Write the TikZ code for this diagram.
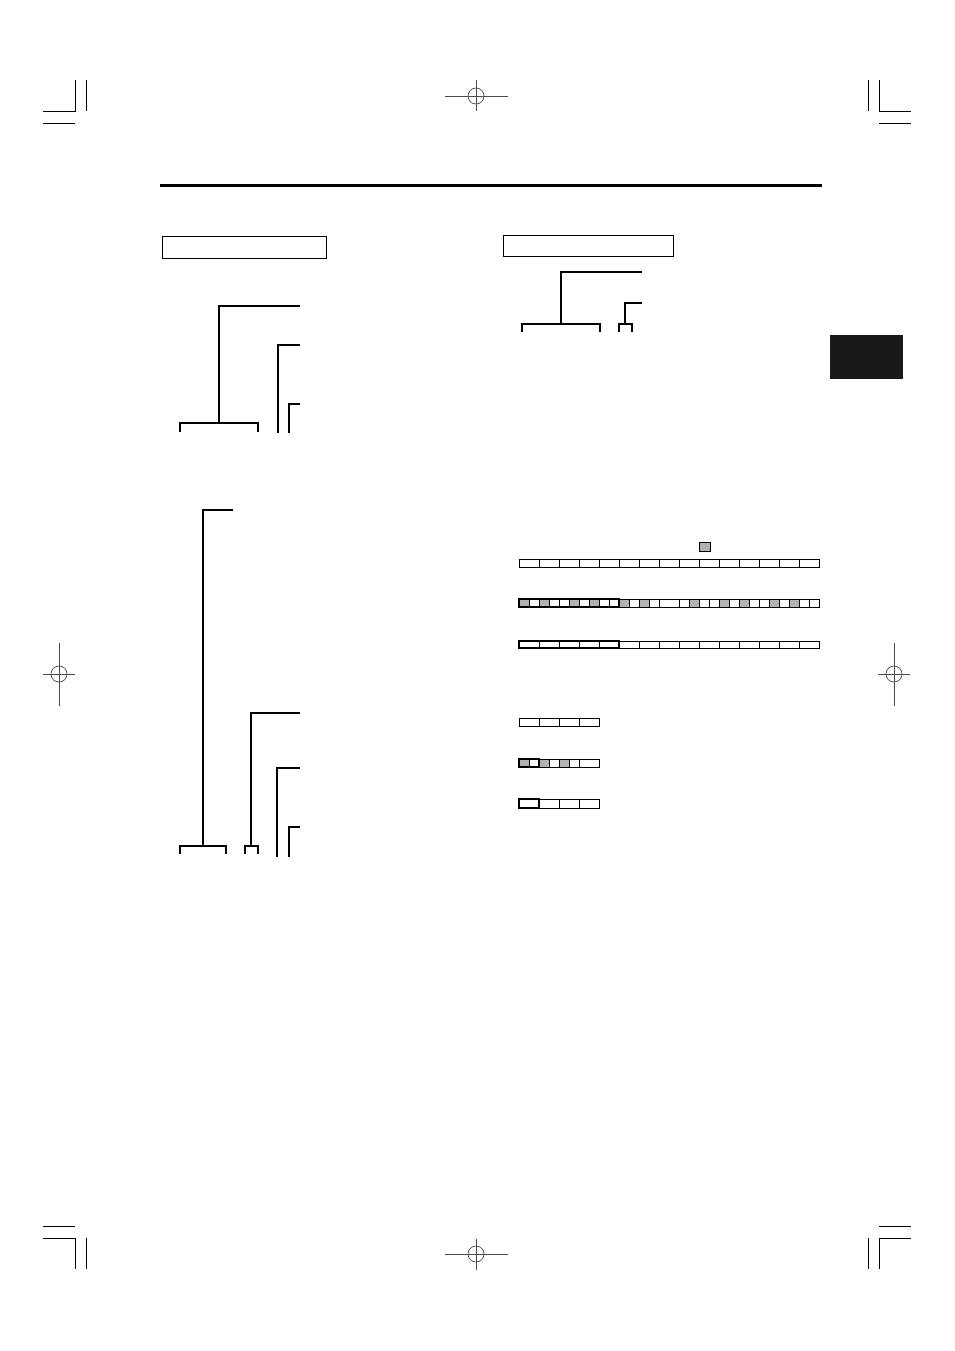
\documentclass[tikz,border=0pt]{standalone}
\usetikzlibrary{positioning}

\begin{document}
\begin{tikzpicture}[
    x=1pt, y=-1pt,
    line/.style={line width=1.2pt, line cap=rect},
    titlebox/.style={rectangle, draw, line width=1pt, inner sep=0pt},
    tab/.style={rectangle, fill=black!90, inner sep=0pt, minimum width=73pt, minimum height=44pt},
    cell/.style={draw, line width=0.8pt},
    shade/.style={fill=black!30},
    frame/.style={draw, line width=1.8pt},
    crop/.style={line width=0.9pt},
    reg/.style={line width=0.7pt, draw=black!70}
]
\useasboundingbox (0,0) rectangle (954,1351);

% Crop marks
\draw[crop] (43,111) -- (75,111) -- (75,80);
\draw[crop] (86,80) -- (86,111);
\draw[crop] (43,123) -- (75,123);
\draw[crop] (911,111) -- (879,111) -- (879,80);
\draw[crop] (868,80) -- (868,111);
\draw[crop] (911,123) -- (879,123);
\draw[crop] (43,1226) -- (75,1226);
\draw[crop] (43,1238) -- (75,1238) -- (75,1269);
\draw[crop] (86,1238) -- (86,1269);
\draw[crop] (911,1226) -- (879,1226);
\draw[crop] (911,1238) -- (879,1238) -- (879,1269);
\draw[crop] (868,1238) -- (868,1269);

% Registration marks
\foreach \cx/\cy in {476/96, 476/1254} {
    \draw[reg] (\cx,\cy) circle (8);
    \draw[reg] (\cx-31.5,\cy) -- (\cx+31.5,\cy);
    \draw[reg] (\cx,\cy-15.5) -- (\cx,\cy+15.5);
}
\foreach \cx/\cy in {59/674, 894/674} {
    \draw[reg] (\cx,\cy) circle (8);
    \draw[reg] (\cx,\cy-31.5) -- (\cx,\cy+31.5);
    \draw[reg] (\cx-16,\cy) -- (\cx+16,\cy);
}

% Header rule and side tab
\draw[line width=3pt] (160,186) -- (822,186);
\node[tab] (sidetab) at (866.5,357) {};

% Title boxes
\node[titlebox, minimum width=164pt, minimum height=22pt] (leftbox) at (244,247) {};
\node[titlebox, minimum width=170pt, minimum height=21pt] (rightbox) at (588,245.5) {};

% Upper left tree
\coordinate (la) at (299,306);
\coordinate (lam) at (219,423);
\coordinate (la1) at (180,431);
\coordinate (la2) at (258,431);
\coordinate (lb) at (299,345);
\coordinate (lbe) at (278,432);
\coordinate (lc) at (299,404);
\coordinate (lce) at (289,432);
\draw[line] (la) -| (lam);
\draw[line] (la1) |- (lam) -| (la2);
\draw[line] (lb) -| (lbe);
\draw[line] (lc) -| (lce);

% Upper right tree
\coordinate (ra) at (641,272);
\coordinate (ram) at (561,324);
\coordinate (ra1) at (522,331);
\coordinate (ra2) at (600,331);
\coordinate (rb) at (641,303);
\coordinate (rbm) at (625,324);
\coordinate (rb1) at (619,331);
\coordinate (rb2) at (632,331);
\draw[line] (ra) -| (ram);
\draw[line] (ra1) |- (ram) -| (ra2);
\draw[line] (rb) -| (rbm);
\draw[line] (rb1) |- (rbm) -| (rb2);

% Lower left tree
\coordinate (ba) at (232,510);
\coordinate (bam) at (203,846);
\coordinate (ba1) at (180,853);
\coordinate (ba2) at (226,853);
\coordinate (bb) at (299,713);
\coordinate (bbm) at (251,846);
\coordinate (bb1) at (245,853);
\coordinate (bb2) at (258,853);
\coordinate (bc) at (299,768);
\coordinate (bce) at (277,856);
\coordinate (bd) at (299,827);
\coordinate (bde) at (289,856);
\draw[line] (ba) -| (bam);
\draw[line] (ba1) |- (bam) -| (ba2);
\draw[line] (bb) -| (bbm);
\draw[line] (bb1) |- (bbm) -| (bb2);
\draw[line] (bc) -| (bce);
\draw[line] (bd) -| (bde);

% Long cell rows
\draw[cell, shade] (699,542) rectangle (710,551);
\foreach \i in {0,...,14}
    \draw[cell] ({519+20*\i},559) rectangle +(20,8);

\foreach \i in {0,2,5,7,10,12,17,20,22,25,27}
    \fill[shade] ({519+10*\i},599) rectangle +(10,8);
\draw[cell] (519,599) rectangle (819,607);
\foreach \i in {1,...,14,16,17,...,29}
    \draw[cell] ({519+10*\i},599) -- +(0,8);
\draw[frame] (519,599) rectangle (619,607);

\foreach \i in {0,...,14}
    \draw[cell] ({519+20*\i},641) rectangle +(20,7);
\draw[frame] (519,641) rectangle (619,648);

% Short cell rows
\foreach \i in {0,...,3}
    \draw[cell] ({519+20*\i},718) rectangle +(20,8);

\foreach \i in {0,2,4}
    \fill[shade] ({519+10*\i},759) rectangle +(10,8);
\draw[cell] (519,759) rectangle (599,767);
\foreach \i in {1,...,6}
    \draw[cell] ({519+10*\i},759) -- +(0,8);
\draw[frame] (519,759) rectangle (539,767);

\foreach \i in {0,...,3}
    \draw[cell] ({519+20*\i},799) rectangle +(20,9);
\draw[frame] (519,799) rectangle (539,808);

\end{tikzpicture}
\end{document}
